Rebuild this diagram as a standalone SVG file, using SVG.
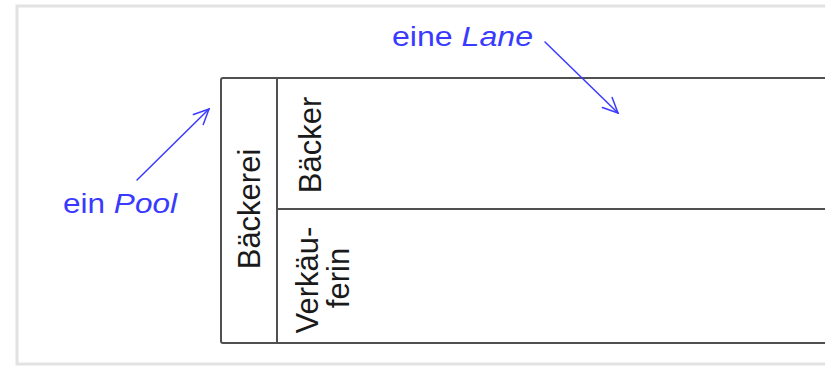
<svg xmlns="http://www.w3.org/2000/svg" width="825" height="366" viewBox="0 0 825 366">
  <defs>
    <style>
      .frame { fill: #ffffff; stroke: #e2e2e2; stroke-width: 3; }
      .line { fill: none; stroke: #505050; stroke-width: 2; }
      .lbl { font-family: "Liberation Sans", Arial, sans-serif; font-size: 31px; fill: #1a1a1a; }
      .note { font-family: "Liberation Sans", Arial, sans-serif; font-size: 28px; fill: #3a3aff; }
      .arrow { fill: none; stroke: #3a3aff; stroke-width: 1.5; stroke-linecap: round; }
    </style>
    <marker id="open" viewBox="0 0 20 20" refX="18" refY="10" markerWidth="20" markerHeight="20" markerUnits="userSpaceOnUse" orient="auto">
      <path d="M3,3 L18,10 L3,17" fill="none" stroke="#3a3aff" stroke-width="1.5" stroke-linecap="round"/>
    </marker>
  </defs>
  <rect class="frame" x="17" y="6" width="830" height="358"/>

  <g id="pool-baeckerei">
    <path class="line" d="M825,78 H223 Q221,78 221,80 V341 Q221,343 223,343 H825"/>
    <line class="line" x1="277" y1="78" x2="277" y2="343"/>
    <text class="lbl" transform="translate(260,209) rotate(-90)" text-anchor="middle">Bäckerei</text>
  </g>

  <g id="lane-baecker">
    <text class="lbl" transform="translate(321,145) rotate(-90)" text-anchor="middle">Bäcker</text>
  </g>

  <g id="lane-verkaeuferin">
    <line class="line" x1="277" y1="209" x2="825" y2="209"/>
    <text class="lbl" transform="translate(318,280) rotate(-90)" text-anchor="middle">Verkäu-</text>
    <text class="lbl" transform="translate(349,278) rotate(-90)" text-anchor="middle">ferin</text>
  </g>

  <g id="note-pool">
    <text class="note" x="63" y="213" textLength="114" lengthAdjust="spacingAndGlyphs">ein <tspan font-style="italic">Pool</tspan></text>
  </g>
  <g id="note-lane">
    <text class="note" x="392" y="46" textLength="141" lengthAdjust="spacingAndGlyphs">eine <tspan font-style="italic">Lane</tspan></text>
  </g>

  <g id="connectors">
    <line class="arrow" x1="137" y1="180" x2="209" y2="109" marker-end="url(#open)"/>
    <line class="arrow" x1="545" y1="42" x2="618" y2="113" marker-end="url(#open)"/>
  </g>
</svg>
